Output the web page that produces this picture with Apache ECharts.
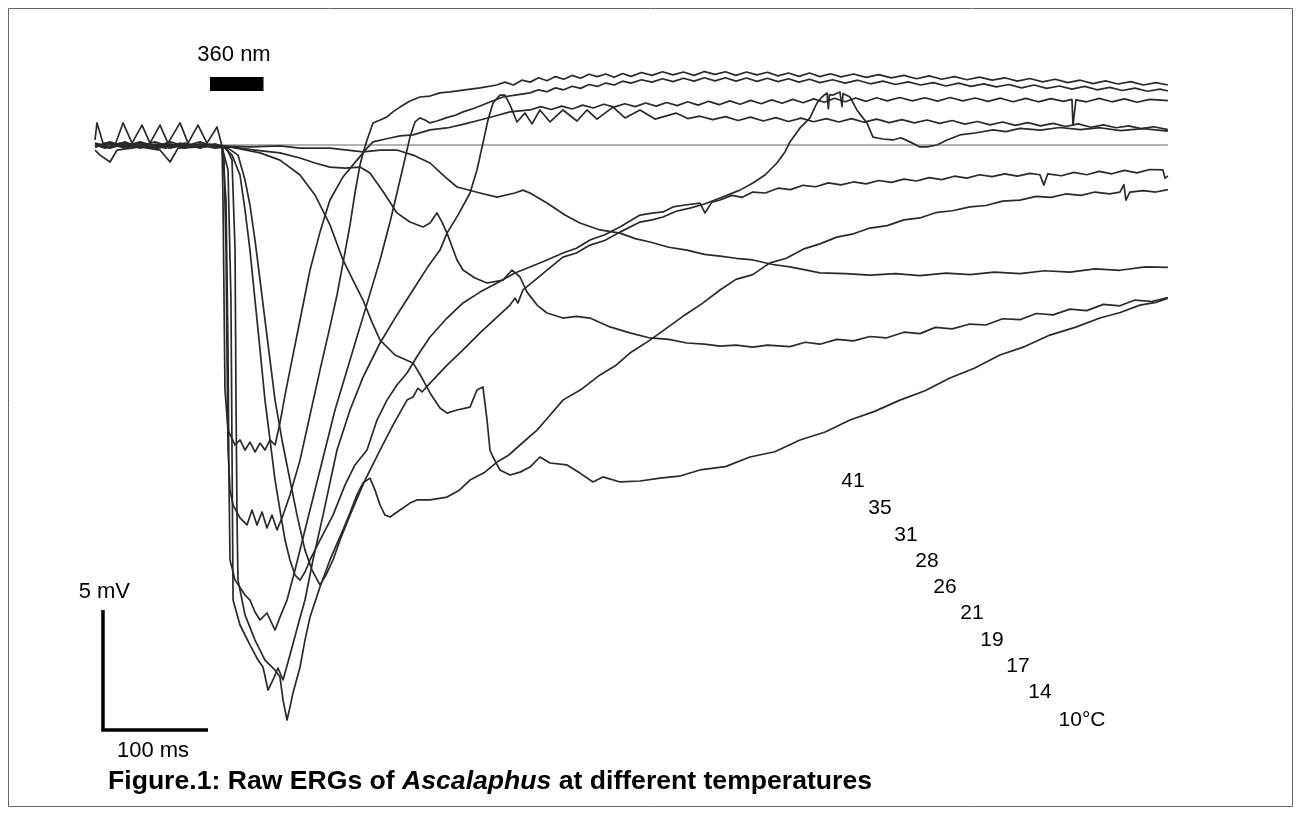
<!DOCTYPE html>
<html><head><meta charset="utf-8">
<script src="https://cdn.jsdelivr.net/npm/echarts@6/dist/echarts.min.js"></script>
<style>html,body{margin:0;padding:0;background:#fff}#c{width:1301px;height:816px}</style>
</head><body><div id="c"></div>
<script>
// time in ms (0 = stimulus onset), potential in mV
const trace41 = [[-110.5,0.21],[-108.6,0.92],[-102.9,0.08],[-91.4,0],[-83.8,0.92],[-75.2,0.08],[-65.7,0.83],[-58.1,0.08],[-48.6,0.83],[-41,0.08],[-29.5,0.92],[-21.9,0.08],[-12.4,0.83],[-3.8,0.08],[5.7,0.75],[10.5,-0.04],
[11.4,-2.29],[12.4,-6.46],[13.3,-10.21],[16.2,-11.88],[22.9,-12.5],[27.6,-12.29],[32.4,-12.71],[37.1,-12.38],[41.9,-12.79],[46.7,-12.42],[51.4,-12.71],[56.2,-12.29],[61,-12.5],[65.7,-11.58],
[70.5,-10.42],[75.2,-9.38],[84.8,-7.29],[94.3,-5.21],[103.8,-3.63],[113.3,-2.29],[125.7,-1.33],[139,-0.63],[148.6,-0.13],[154.3,0.13],[170.5,0.29],[180,0.38],[192.4,0.42],[208.6,0.63],[224.8,0.71],[241.9,0.88],[256.2,1.04],[270.5,1.21],[284.8,1.38],[303.8,1.46],
[314,1.6],[324,1.48],[334,1.62],[344,1.5],[354,1.66],[364,1.54],[374,1.7],[384,1.58],[394,1.72],[404,1.6],[414,1.75],[424,1.62],[434,1.77],[444,1.64],[454,1.8],[464,1.66],[474,1.82],[484,1.68],[494,1.84],[504,1.7],[514,1.86],[524,1.72],[534,1.88],[544,1.74],[554,1.9],[564,1.76],[574,1.92],[584,1.78],[594,1.95],[604,1.8],[614,1.96],[624,1.82],[634,1.97],[644,1.84],[656,1.98],[668,1.84],[680,1.97],[692,1.83],[704,1.98],[716,1.84],[728,1.96],[740,1.82],[752,1.95],[764,1.8],[776,1.94],[788,1.8],[800,1.93],[812,1.82],[820,1.9],[821,0.83],[823.8,1.88],[834,1.8],[846,1.94],[858,1.8],[870,1.92],[882,1.78],[894,1.9],[911.4,1.85]];
const trace35 = [[-110.5,0.08],[-96.2,-0.08],[-81.9,0.13],[-67.6,-0.13],[-53.3,0.04],[-39,-0.08],[-24.8,0.08],[-10.5,-0.08],[3.8,0.04],[10.5,-0.04],
[12.4,-0.63],[14.3,-4.38],[15.2,-8.54],[16.2,-12.71],[18.1,-14.38],[21,-15],[27.6,-15.54],[34.3,-15.83],[39,-15.21],[43.8,-15.83],[48.6,-15.29],[53.3,-15.96],[58.1,-15.42],[62.9,-16.04],[68.6,-15.42],
[75.2,-14.58],[84.8,-13.13],[94.3,-11.25],[103.8,-9.38],[113.3,-7.58],[120,-6.25],[125.7,-4.92],[132.4,-3.33],[137.1,-2],[141.9,-0.83],[144.8,-0.33],[148.6,0.21],[154.3,0.92],[161,1.04],[167.6,1.17],[173.3,1.38],[180,1.58],[189.5,1.83],[199,2.0],[208.6,2.04],[218.1,2.17],[227.6,2.21],[240,2.29],[256.2,2.38],[272,2.5],
[280,2.62],[288,2.5],[296,2.7],[304,2.62],[312,2.8],[320,2.68],[328,2.85],[336,2.74],[344,2.9],[352,2.78],[360,2.95],[368,2.85],[376,2.96],[384,2.82],[392,2.98],[400,2.86],[410,3.02],[420,2.9],[430,3.05],[440,2.92],[450,3.04],[460,2.9],[470,3.06],[480,2.94],[490,3.05],[500,2.9],[510,3.04],[520,2.92],[530,3.03],[540,2.88],[550,3.0],[560,2.86],[570,3.0],[580,2.85],[590,2.97],[600,2.84],[612,2.96],[624,2.82],[636,2.93],[648,2.8],[660,2.9],[672,2.76],[684,2.88],[696,2.74],[708,2.85],[720,2.72],[732,2.83],[744,2.7],[756,2.8],[768,2.66],[780,2.77],[792,2.63],[804,2.74],[816,2.6],[828,2.7],[840,2.56],[852,2.67],[864,2.54],[876,2.64],[888,2.5],[900,2.6],[911.4,2.5]];
const trace31 = [[-110.5,-0.04],[-96.2,0.13],[-81.9,-0.08],[-67.6,0.08],[-53.3,-0.08],[-39,0.13],[-24.8,-0.04],[-10.5,0.13],[3.8,-0.08],[10.5,-0.04],
[14.3,-2.29],[16.2,-8.54],[17.1,-13.96],[18.1,-17.29],[22.9,-18.13],[32.4,-18.75],[37.1,-18.96],[41.9,-19.46],[46.7,-19.79],[53.3,-19.5],[61,-20.21],[65.7,-19.67],
[72.4,-18.96],[80,-17.71],[89.5,-16.04],[103.8,-13.54],[118.1,-11.04],[132.4,-8.96],[146.7,-6.88],[161,-4.79],[170.5,-3.21],[177.1,-2.0],[183.8,-0.75],[189.5,0.33],[194.3,0.96],[199,1.13],[203.8,1.04],[208.6,0.92],[215.2,1.0],[223.8,1.13],[233.3,1.25],[240,1.38],[251.4,1.54],[265.7,1.79],[278.1,2.0],[289.5,2.08],[303.8,2.17],
[312,2.3],[320,2.22],[328,2.38],[336,2.3],[344,2.45],[352,2.36],[360,2.52],[368,2.44],[376,2.58],[384,2.5],[392,2.66],[400,2.58],[410,2.72],[420,2.62],[430,2.76],[440,2.64],[450,2.78],[460,2.66],[470,2.8],[480,2.67],[490,2.8],[500,2.66],[510,2.79],[520,2.65],[530,2.78],[540,2.64],[550,2.76],[560,2.62],[570,2.74],[580,2.6],[592,2.72],[604,2.58],[616,2.7],[628,2.55],[640,2.66],[652,2.52],[664,2.63],[676,2.5],[688,2.6],[700,2.46],[712,2.58],[724,2.44],[736,2.55],[748,2.42],[760,2.52],[772,2.38],[784,2.5],[796,2.36],[808,2.46],[820,2.33],[832,2.44],[844,2.3],[856,2.4],[868,2.27],[880,2.37],[892,2.24],[904,2.33],[911.4,2.25]];
const trace28 = [[-110.5,0],[-101,-0.13],[-86.7,0.08],[-72.4,-0.08],[-58.1,0.04],[-43.8,-0.13],[-29.5,0.08],[-15.2,-0.08],[-1,0.04],[10.5,-0.08],
[16.2,-1.04],[19,-6.46],[20,-12.71],[21,-18.96],[27.6,-20],[37.1,-20.83],[44.8,-21.46],[49.5,-21.75],[54.3,-22.71],[59,-22.29],[63.8,-21.79],[68.6,-22.29],
[75.2,-21.25],[82.9,-20],[89.5,-18.96],[97.1,-17.29],[106.7,-15.42],[120,-12.71],[132.4,-11.04],[144.8,-9.67],[161,-8.25],[177.1,-7.08],[192.4,-6.04],[205.7,-5.13],[218.1,-4.38],[224.8,-3.67],[235.2,-2.92],[246.7,-2.0],[253.3,-1.04],[259,0.08],[263.8,1.04],[268.6,1.75],[275.2,2.08],[280,2.08],[284.8,1.67],[291.4,0.96],
[299,1.33],[305.7,0.88],[313.3,1.46],[322.9,0.96],[335.2,1.46],[348.6,1.0],[358.1,1.46],[367.6,1.08],[382.9,1.58],[394.3,1.13],[408.6,1.46],[422.9,1.08],[442.9,1.33],[454,1.1],[465.7,1.2],
[478,1.06],[490,1.18],[502,1.02],[514,1.16],[526,1.0],[538,1.14],[550,0.98],[562,1.12],[574,0.97],[586,1.1],[598,0.96],[610,1.1],[622,0.95],[634,1.08],[646,0.93],[658,1.06],[670,0.92],[682,1.04],[694,0.9],[706,1.02],[718,0.87],[730,0.98],[742,0.84],[754,0.96],[766,0.82],[778,0.93],[790,0.8],[802,0.9],[814,0.77],[826,0.88],[838,0.74],[850,0.84],[862,0.72],[874,0.8],[886,0.68],[898,0.76],[911.4,0.64]];
const trace26 = [[-110.5,0.04],[-96.2,-0.08],[-81.9,0.08],[-67.6,-0.04],[-53.3,0.13],[-39,-0.08],[-24.8,0.04],[-10.5,-0.13],[3.8,0.04],[16.2,-0.13],
[25.7,-0.42],[32.4,-1.46],[37.1,-2.5],[41.9,-3.96],[46.7,-5.63],[51.4,-7.29],[56.2,-8.96],[61,-10.63],[67.6,-12.29],[75.2,-13.96],[81.9,-15.42],[89.5,-16.88],[96.2,-17.71],[103.8,-18.33],
[109.5,-17.92],[116.2,-17.29],[122.9,-16.46],[132.4,-15.42],[146.7,-13.96],[161,-12.71],[173.3,-11.67],[186.7,-10.63],[192.4,-10.5],[197.1,-10.13],[201,-10.29],[208.6,-9.92],[224.8,-9.17],[240,-8.54],[256.2,-7.83],[272.4,-7.17],[284.8,-6.67],[289.5,-6.38],[292.4,-6.58],[297.1,-6.04],[308.6,-5.63],[320,-5.21],[335.2,-4.67],[348,-4.5],[361,-4.17],[375,-3.98],[389.5,-3.63],[408.6,-3.21],[420,-3.12],[430.5,-3.0],[443,-2.76],[456.2,-2.63],[470,-2.46],[484.8,-2.21],[503.8,-1.88],[516.2,-1.58],[527.6,-1.25],[539,-0.75],[546.7,-0.29],[551.4,0.13],[561,0.71],[570.5,1.13],[577.1,1.75],[581.9,2.0],[586.7,2.17],[588,1.5],[589,2.1],[592.4,2.08],[599,2.21],[601,1.6],[602,2.15],[608.6,2.0],[615.2,1.46],[620.9,1.13],[624.8,0.92],[630.5,0.33],[640,0.25],[649.5,0.21],[657,0.3],[665.7,0.13],[675.2,-0.08],[681.9,-0.08],[691.4,0],[701,0.21],[713.3,0.42],[727.6,0.5],[744.8,0.63],[757,0.56],[770.5,0.69],[790,0.62],[808.6,0.73],[828,0.64],[846.7,0.72],[866,0.6],[888,0.68],[911.4,0.58]];
const trace21 = [[-110.5,-0.08],[-96.2,0.08],[-81.9,-0.04],[-67.6,0.13],[-53.3,-0.04],[-39,0.04],[-24.8,-0.13],[-10.5,0.04],[3.8,-0.04],[13.3,-0.13],
[20,-0.42],[27.6,-1.25],[32.4,-2.71],[37.1,-4.38],[41.9,-6.46],[46.7,-8.54],[51.4,-10.63],[56.2,-12.29],[61,-13.96],[65.7,-15.21],[70.5,-16.46],[75.2,-17.29],[80,-17.92],[84.8,-18.13],
[89.5,-17.79],[94.3,-17.29],[103.8,-16.46],[116.2,-15.42],[127.6,-14.17],[137.1,-13.33],[148.6,-12.71],[158.1,-11.46],[167.6,-10.63],[177.1,-10.0],[186.7,-9.5],[197.1,-8.75],[208.6,-8.0],[224.8,-7.21],[240,-6.58],[256.2,-6.13],[272.4,-5.75],[289.5,-5.33],[303.8,-5.08],[320,-4.79],[335.2,-4.5],[348,-4.3],[361,-3.96],[375,-3.74],[389.5,-3.42],[408.6,-2.92],[420,-2.84],[430.5,-2.79],[440,-2.58],[451.4,-2.5],[465.7,-2.42],[470.5,-2.83],[477.1,-2.38],[484.8,-2.29],
[496,-2.1],[506,-2.18],[516,-1.96],[528,-2.0],[540,-1.8],[552,-1.86],[564,-1.68],[576,-1.74],[588,-1.58],[600,-1.66],[612,-1.54],[624,-1.62],[636,-1.48],[648,-1.56],[660,-1.42],[672,-1.5],[684,-1.36],[696,-1.44],[708,-1.3],[720,-1.38],[732,-1.24],[744,-1.32],[756,-1.2],[768,-1.3],[780,-1.18],[789.5,-1.24],[793.3,-1.67],[797,-1.2],[810,-1.28],[822,-1.14],[834,-1.24],[846,-1.1],[858,-1.2],[870,-1.06],[882,-1.16],[894,-1.02],[906.7,-1.04],[908.6,-1.38],[911.4,-1.29]];
const trace19 = [[-110.5,-0.04],[-96.2,0.04],[-81.9,-0.13],[-67.6,0],[-53.3,-0.13],[-39,0.04],[-24.8,-0.08],[-10.5,0],[3.8,-0.13],[14.3,-0.08],
[20,-0.63],[22.9,-4.38],[23.8,-10.63],[24.8,-15.63],[25.7,-18.13],[32.4,-19.58],[41.9,-20.63],[51.4,-21.46],[61,-21.88],[65.7,-22.17],[68.6,-23.13],[72.4,-23.96],
[75.2,-23.42],[78.1,-22.83],[84.8,-21.75],[89.5,-20.63],[94.3,-19.67],[103.8,-18.42],[113.3,-17.29],[125.7,-16.04],[132.4,-15.33],[139,-14.58],[144.8,-14.08],[151.4,-13.88],[156.2,-14.38],[161,-15.0],[165.7,-15.42],[170.5,-15.5],[180,-15.21],[189.5,-14.92],[196.2,-14.79],[208.6,-14.79],[224.8,-14.67],[236,-14.4],[246.7,-13.96],[260,-13.66],[272.4,-13.21],[283,-12.94],[294.3,-12.5],[310.5,-11.88],[322,-11.3],[335.2,-10.63],[352,-10.2],[370.5,-9.58],[385,-9.2],[399,-8.67],[418.1,-8.13],[435,-7.6],[451.4,-7.08],[468,-6.6],[484.8,-6.04],
[500,-5.6],[516,-5.4],[532,-4.92],[548,-4.72],[564,-4.34],[580,-4.12],[596,-3.84],[612,-3.7],[627.6,-3.46],[644,-3.36],[660,-3.12],[675.2,-3.04],[690,-2.82],[706,-2.74],[722.9,-2.58],[738,-2.52],[754,-2.34],[770.5,-2.3],[786,-2.14],[800,-2.18],[814,-2.04],[828.6,-2.1],[842,-1.96],[856,-2.04],[865.7,-1.96],[869.5,-1.65],[871.4,-2.3],[875.2,-1.96],[888,-1.9],[900,-1.96],[911.4,-1.86]];
const trace17 = [[-110.5,0],[-96.2,-0.13],[-81.9,0.04],[-67.6,-0.08],[-53.3,0],[-39,-0.13],[-24.8,0],[-10.5,-0.08],[3.8,0],[18.1,-0.08],
[32.4,-0.21],[46.7,-0.33],[65.7,-0.63],[84.8,-1.25],[99,-2.08],[113.3,-3.33],[125.7,-4.79],[135.2,-5.63],[144.8,-6.46],[153.3,-7.38],[161,-8.13],[175.2,-8.75],[192.4,-9.08],[201,-9.71],[208.6,-10.33],[218.1,-10.96],[224.8,-11.17],[234.3,-11.04],[246.7,-10.92],[253.3,-10.21],[259,-10.08],[262.9,-11.46],[265.7,-12.71],[268.6,-13.0],[275.2,-13.54],[284.8,-13.75],[294.3,-13.63],[303.8,-13.42],[313.3,-13.0],[322.9,-13.25],[339,-13.33],[351.4,-13.67],[363.8,-14.04],[373.3,-13.83],[389.5,-14.04],[408.6,-14.0],[427.6,-13.88],[446,-13.8],[465.7,-13.54],[490,-13.4],[513.3,-13.0],[537,-12.78],[561,-12.29],[585,-11.96],[608.6,-11.46],[632,-11.1],[656.2,-10.63],[680,-10.24],[703.8,-9.71],[727,-9.3],[751.4,-8.75],[775,-8.4],[799,-7.92],[823,-7.6],[846.7,-7.21],[866,-6.98],[884.8,-6.67],[900,-6.56],[911.4,-6.38]];
const trace14 = [[-110.5,-0.08],[-96.2,0.04],[-81.9,-0.08],[-67.6,0],[-53.3,-0.17],[-39,0],[-24.8,-0.08],[-10.5,0.04],[3.8,-0.08],
[18.1,-0.08],[41.9,-0.21],[65.7,-0.33],[84.8,-0.54],[99,-0.75],[113.3,-0.92],[127.6,-0.96],[141.9,-0.92],[151.4,-1.17],[164.8,-2.0],[177.1,-2.83],[189.5,-3.21],[201.9,-3.42],[208.6,-3.25],[215.2,-2.83],[220,-3.21],[224.8,-3.67],[234.3,-4.79],[240,-5.21],[251.4,-5.54],[262.9,-5.75],[278.1,-5.63],[286.7,-5.21],[294.3,-5.5],[301,-6.13],[310.5,-6.67],[320,-7.0],[335.2,-7.21],[348,-7.14],[361,-7.21],[380,-7.58],[399,-7.83],[418.1,-8.04],[436,-8.1],[453.3,-8.25],[470,-8.3],[484.8,-8.38],[500,-8.34],[516.2,-8.42],
[530,-8.34],[551.4,-8.4],[566,-8.22],[580,-8.3],[596,-8.1],[612,-8.16],[627.6,-7.98],[643,-8.04],[660,-7.8],[675.2,-7.86],[690,-7.6],[706,-7.66],[722.9,-7.46],[738,-7.5],[754,-7.24],[770.5,-7.28],[786,-7.02],[802,-7.08],[818.1,-6.84],[834,-6.9],[850,-6.64],[865.7,-6.7],[880,-6.46],[896,-6.52],[911.4,-6.36]];
const trace10 = [[-110.5,-0.21],[-105.7,-0.42],[-96.2,-0.71],[-89.5,-0.21],[-67.6,-0.08],[-48.6,-0.21],[-39,-0.71],[-31.4,-0.13],[-10.5,-0.08],[8.6,-0.04],
[37.1,-0.08],[65.7,-0.04],[84.8,-0.13],[113.3,-0.13],[144.8,-0.29],[161,-0.21],[177.1,-0.21],[192.4,-0.42],[208.6,-0.75],[222.9,-1.33],[234.3,-1.75],[256.2,-2.0],[272.4,-2.17],[289.5,-2.0],[297.1,-1.88],[303.8,-2.0],[320,-2.42],[337.1,-2.92],[351.4,-3.25],[370.5,-3.54],[389.5,-3.67],[404,-3.9],[418.1,-4.04],[436,-4.26],[453.3,-4.38],[470,-4.56],[484.8,-4.63],[500,-4.72],[516.2,-4.79],
[535,-4.98],[551.4,-5.08],[566,-5.2],[580,-5.33],[604,-5.36],[627.6,-5.42],[652,-5.36],[675.2,-5.44],[700,-5.34],[722.9,-5.4],[746,-5.3],[770.5,-5.36],[794,-5.24],[818.1,-5.3],[842,-5.16],[865.7,-5.22],[890,-5.08],[911.4,-5.1]];

const tempLabels = ['41','35','31','28','26','21','19','17','14','10°C'];
const stimulusLabel = '360 nm';
const stimulus = [[-1,2.54],[50,2.54]];
const baseline = [[-110.5,0],[911.4,0]];
const scaleBar = [[-102.9,-19.375],[-102.9,-24.375],[-2.9,-24.375]];
const scaleLabels = ['5 mV','100 ms'];

const traces = [trace41,trace35,trace31,trace28,trace26,trace21,trace19,trace17,trace14,trace10];

const chart = echarts.init(document.getElementById('c'), null, {renderer:'canvas'});
const series = [];
series.push({type:'line', data: baseline, showSymbol:false, silent:true, lineStyle:{color:'#9a9a9a', width:1.3}, z:1});
traces.forEach((t,i)=>{
  series.push({name: tempLabels[i], type:'line', data:t, showSymbol:false, smooth:false, lineStyle:{color:'#2a2a2a', width:1.7, join:'round'}, z:2});
});
series.push({type:'line', data: stimulus, showSymbol:false, lineStyle:{color:'#000', width:14, cap:'butt'}, z:3});
series.push({type:'line', data: scaleBar, showSymbol:false, lineStyle:{color:'#000', width:3.5, join:'miter', cap:'butt'}, z:3});

// label layout (pixels)
const labelPos = [[853,481],[880,508],[906,535],[927,561],[945,587],[972,613],[992,640],[1018,666],[1040,692],[1082,720]];
const FONT = '"Liberation Sans", Arial, Helvetica, sans-serif';
const graphic = [
  {type:'rect', shape:{x:8.5,y:8.5,width:1284,height:798}, style:{fill:'none', stroke:'#666', lineWidth:1}, silent:true},
  {type:'text', x:234, y:55, style:{text:stimulusLabel, font:'22px '+FONT, fill:'#000', align:'center', verticalAlign:'middle'}},
  {type:'text', x:130, y:592, style:{text:scaleLabels[0], font:'22px '+FONT, fill:'#000', align:'right', verticalAlign:'middle'}},
  {type:'text', x:153, y:751, style:{text:scaleLabels[1], font:'22px '+FONT, fill:'#000', align:'center', verticalAlign:'middle'}},
  {type:'text', x:108, y:782, style:{text:'{b|Figure.1: Raw ERGs of }{i|Ascalaphus}{b| at different temperatures}', align:'left', verticalAlign:'middle',
     rich:{b:{font:'bold 26.6px '+FONT, fill:'#000'}, i:{font:'italic bold 26.6px '+FONT, fill:'#000'}}}}
];
tempLabels.forEach((s,i)=>{
  graphic.push({type:'text', x:labelPos[i][0], y:labelPos[i][1], style:{text:s, font:'21px '+FONT, fill:'#000', align:'center', verticalAlign:'middle'}});
});

chart.setOption({
  animation:false,
  backgroundColor:'#fff',
  grid:{left:95, right:133, top:49, bottom:47},
  xAxis:{type:'value', min:-110.5, max:911.5, show:false},
  yAxis:{type:'value', min:-26, max:4, show:false},
  series: series,
  graphic: graphic
});
</script></body></html>
